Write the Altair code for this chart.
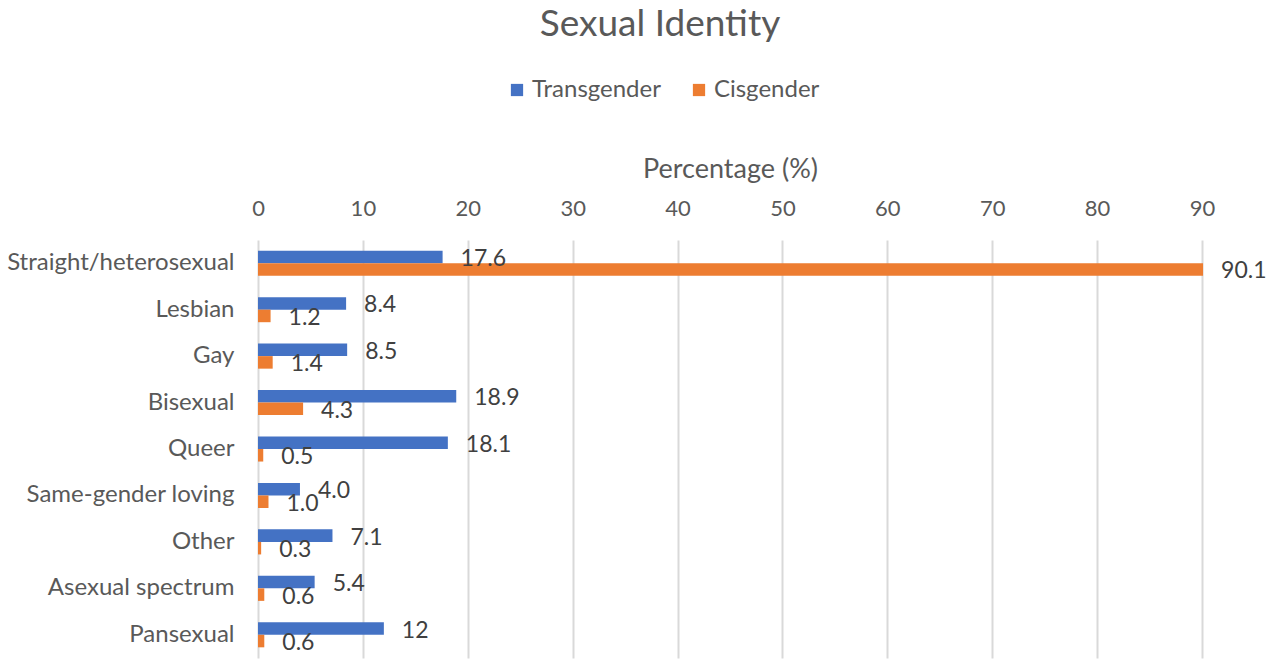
import altair as alt
import pandas as pd

# Survey results: share of respondents (%) by sexual identity
categories = [
    "Straight/heterosexual",
    "Lesbian",
    "Gay",
    "Bisexual",
    "Queer",
    "Same-gender loving",
    "Other",
    "Asexual spectrum",
    "Pansexual",
]
transgender = [17.6, 8.4, 8.5, 18.9, 18.1, 4.0, 7.1, 5.4, 12]
cisgender = [90.1, 1.2, 1.4, 4.3, 0.5, 1.0, 0.3, 0.6, 0.6]
transgender_labels = ["17.6", "8.4", "8.5", "18.9", "18.1", "4.0", "7.1", "5.4", "12"]
cisgender_labels = ["90.1", "1.2", "1.4", "4.3", "0.5", "1.0", "0.3", "0.6", "0.6"]
groups = ["Transgender", "Cisgender"]
colors = ["#4472C4", "#ED7D31"]
x_ticks = [0, 10, 20, 30, 40, 50, 60, 70, 80, 90]

rows = []
for i, cat in enumerate(categories):
    rows.append({"category": cat, "group": groups[0], "value": transgender[i], "label": transgender_labels[i]})
    rows.append({"category": cat, "group": groups[1], "value": cisgender[i], "label": cisgender_labels[i]})
df = pd.DataFrame(rows)

FONT = "Lato"
GREY = "#595959"

x_enc = alt.X(
    "value:Q",
    scale=alt.Scale(domain=[0, 90], nice=False, clamp=False),
    axis=alt.Axis(
        orient="top",
        values=x_ticks,
        title="Percentage (%)",
        titleFont=FONT,
        titleFontSize=27,
        titleFontWeight="normal",
        titleColor=GREY,
        titlePadding=14,
        labelFont=FONT,
        labelFontSize=22,
        labelColor=GREY,
        labelPadding=20,
        labelFlush=False,
        grid=True,
        gridColor="#d9d9d9",
        gridWidth=2,
        domain=False,
        ticks=False,
    ),
)
y_enc = alt.Y(
    "category:N",
    sort=categories,
    scale=alt.Scale(paddingInner=0.46, paddingOuter=0.23),
    axis=alt.Axis(
        title=None,
        labelFont=FONT,
        labelFontSize=24,
        labelColor=GREY,
        labelPadding=24,
        labelLimit=0,
        domain=False,
        ticks=False,
        grid=False,
    ),
)
y_off = alt.YOffset("group:N", sort=groups)

bars = alt.Chart(df).mark_bar(clip=False).encode(
    x=x_enc,
    y=y_enc,
    yOffset=y_off,
    color=alt.Color(
        "group:N",
        sort=groups,
        scale=alt.Scale(domain=groups, range=colors),
        legend=alt.Legend(
            title=None,
            orient="none",
            direction="horizontal",
            legendX=247,
            legendY=-162,
            symbolType="square",
            symbolSize=150,
            symbolStrokeWidth=0,
            labelFont=FONT,
            labelFontSize=24,
            labelColor=GREY,
            labelOffset=3,
            labelLimit=0,
            columnPadding=26,
        ),
    ),
)

labels = alt.Chart(df).mark_text(
    align="left", baseline="middle", dx=18, dy=2, font=FONT, fontSize=23, color="#404040"
).encode(
    x=alt.X("value:Q"),
    y=alt.Y("category:N", sort=categories),
    yOffset=y_off,
    text="label:N",
)

chart = (
    alt.layer(bars, labels)
    .properties(
        width=944,
        height=418,
        autosize=alt.AutoSizeParams(type="none"),
        padding={"left": 258, "top": 240, "right": 70, "bottom": 10},
        title=alt.TitleParams(
            "Sexual Identity",
            anchor="middle",
            font=FONT,
            fontSize=37,
            fontWeight="normal",
            color=GREY,
            offset=34,
            dx=-70,
        ),
    )
    .configure_view(stroke=None)
)

chart.save("out.html", embed_options={"renderer": "svg", "actions": False})
